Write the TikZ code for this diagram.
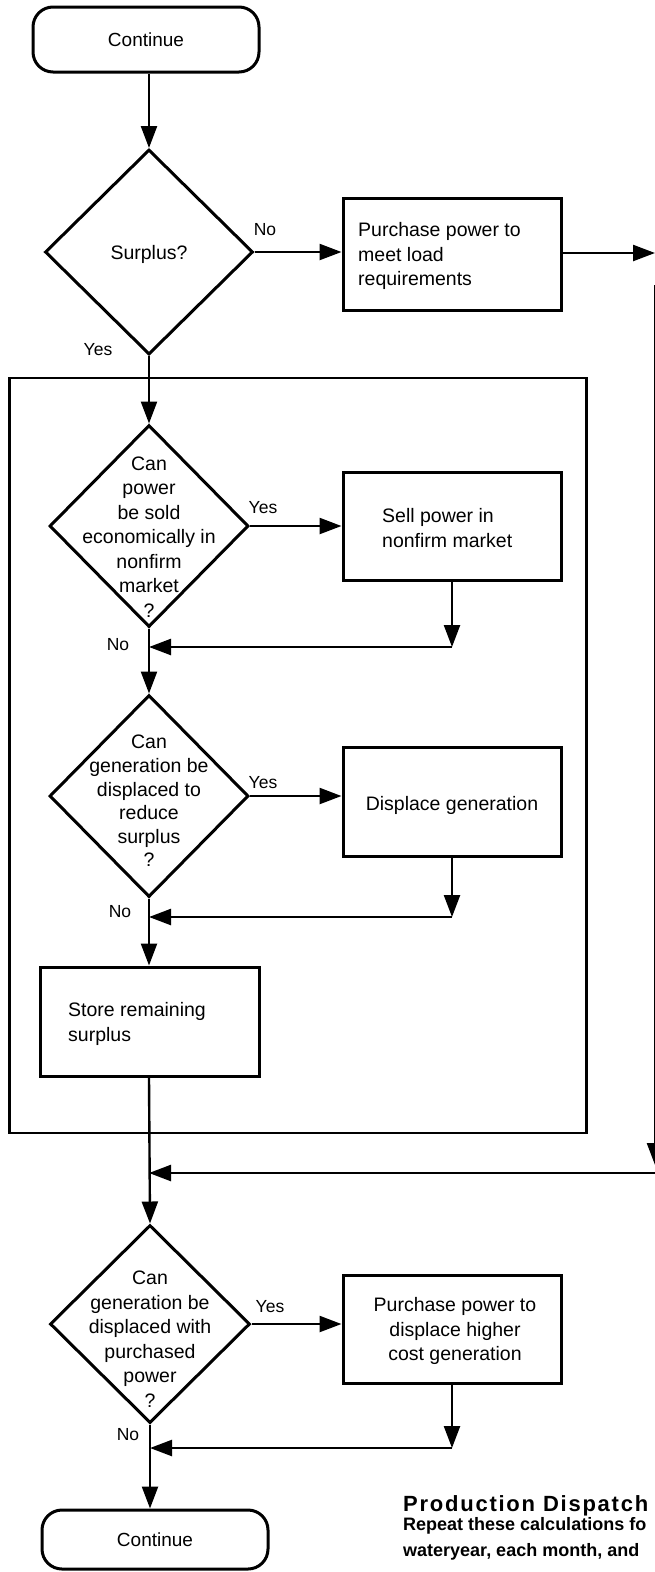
\documentclass[tikz,border=0pt]{standalone}
\usepackage{fontspec}
\setmainfont{Liberation Sans}
\newfontfamily\titlefont[LetterSpace=8]{Liberation Sans}
\usetikzlibrary{shapes.geometric,arrows.meta}
\begin{document}
\begin{tikzpicture}[x=1pt,y=-1pt,
  conn/.style={line width=2.4pt},
  arr/.style={line width=2.4pt,-{Triangle[length=22pt,width=16pt]}},
  dia/.style={diamond,draw,line width=3pt,inner sep=0pt,aspect=1},
  box/.style={draw,rectangle,line width=3pt,minimum width=218pt,minimum height=108pt,inner sep=0pt},
  term/.style={draw,rounded corners=20pt,line width=3pt,minimum width=226pt,minimum height=65pt,inner sep=0pt,font=\fontsize{19}{22}\selectfont},
  txt/.style={font=\fontsize{19.5}{24.5}\selectfont,align=center,inner sep=0pt},
  ltxt/.style={font=\fontsize{19.5}{24.5}\selectfont,align=left,inner sep=0pt,anchor=west},
  lab/.style={font=\fontsize{17.5}{20}\selectfont,inner sep=0pt},
]
\useasboundingbox (0,0) rectangle (655,1572);

% outer group box
\node[draw,line width=2.6pt,minimum width=577pt,minimum height=755pt,inner sep=0pt] (grp) at (298,755.5) {};

% terminals
\node[term] (c1) at (146,39.5) {Continue};
\node[term,minimum height=59pt] (c2) at (155,1539.5) {Continue};

% decisions
\node[dia,minimum width=208pt,minimum height=205pt] (d1) at (149,252) {};
\node[txt] (t1) at (149,254) {Surplus?};
\node[dia,minimum width=199pt,minimum height=202pt] (d2) at (149,526) {};
\node[txt] (t2) at (149,537) {Can\\power\\be sold\\economically in\\nonfirm\\market\\?};
\node[dia,minimum width=199pt,minimum height=202pt] (d3) at (149,796) {};
\node[txt,font=\fontsize{19.5}{23.6}\selectfont] (t3) at (149,801) {Can\\generation be\\displaced to\\reduce\\surplus\\?};
\node[dia,minimum width=200pt,minimum height=198pt] (d4) at (150,1324) {};
\node[txt] (t4) at (150,1339) {Can\\generation be\\displaced with\\purchased\\power\\?};

% process boxes
\node[box,minimum height=112pt] (p1) at (452,254) {};
\node[ltxt] (tp1) at (358,256) {Purchase power to\\meet load\\requirements};
\node[box] (s1) at (452,526) {};
\node[ltxt] (ts1) at (382,528) {Sell power in\\nonfirm market};
\node[box,minimum height=109pt] (s2) at (452,802) {};
\node[txt] (ts2) at (452,805) {Displace generation};
\node[box,minimum width=219pt,minimum height=109pt] (st) at (149.5,1021.5) {};
\node[ltxt] (tst) at (68,1024) {Store remaining\\surplus};
\node[box] (p2) at (452,1329) {};
\node[txt] (tp2) at (455,1331) {Purchase power to\\displace higher\\cost generation};

% labels
\node[lab] (n1) at (265,230) {No};
\node[lab] (y1) at (98,350) {Yes};
\node[lab] (y2) at (263,508) {Yes};
\node[lab] (n2) at (118,645) {No};
\node[lab] (y3) at (263,783) {Yes};
\node[lab] (n3) at (120,912) {No};
\node[lab] (y4) at (270,1307) {Yes};
\node[lab] (n4) at (128,1435) {No};

% merge points and off-page connector
\coordinate (m1) at (149,647);
\coordinate (m2) at (149,917);
\coordinate (m3) at (149,1173);
\coordinate (m4) at (150,1448);
\coordinate (rt) at (655,253);
\coordinate (rtop) at (655,285);
\coordinate (rbot) at (655,1165);
\coordinate (rm) at (660,1173);

% connectors
\draw[arr] (c1.south -| d1.north) -- (d1.north);
\draw[arr] (d1.east) -- (d1.east -| p1.west);
\draw[arr] (p1.east |- rt) -- (rt);
\draw[arr] (rtop) -- (rbot);
\draw[arr] (rm) -- (m3);
\draw[arr] (d1.south) -- (d2.north);
\draw[arr] (d2.east) -- (d2.east -| s1.west);
\draw[arr] (s1.south) -- (s1.south |- m1);
\draw[arr] (s1.south |- m1) -- (m1);
\draw[arr] (d2.south) -- (d3.north);
\draw[arr] (d3.east) -- (d3.east -| s2.west);
\draw[arr] (s2.south) -- (s2.south |- m2);
\draw[arr] (s2.south |- m2) -- (m2);
\draw[arr] (d3.south) -- (d3.south |- st.north);
\draw[arr] (d3.south |- st.south) -- (d4.north);
\draw[arr] (d4.east) -- (d4.east -| p2.west);
\draw[arr] (p2.south) -- (p2.south |- m4);
\draw[arr] (p2.south |- m4) -- (m4);
\draw[arr] (d4.south) -- (d4.south |- c2.north);

% caption
\node[anchor=base west,inner sep=0pt,font=\titlefont\bfseries\fontsize{22}{26}\selectfont] (ttl) at (403,1511) {Production Dispatch};
\node[anchor=base west,inner sep=0pt,font=\bfseries\fontsize{18}{22}\selectfont] (cap1) at (403,1530) {Repeat these calculations fo};
\node[anchor=base west,inner sep=0pt,font=\bfseries\fontsize{18}{22}\selectfont] (cap2) at (403,1556) {wateryear, each month, and};
\end{tikzpicture}
\end{document}
